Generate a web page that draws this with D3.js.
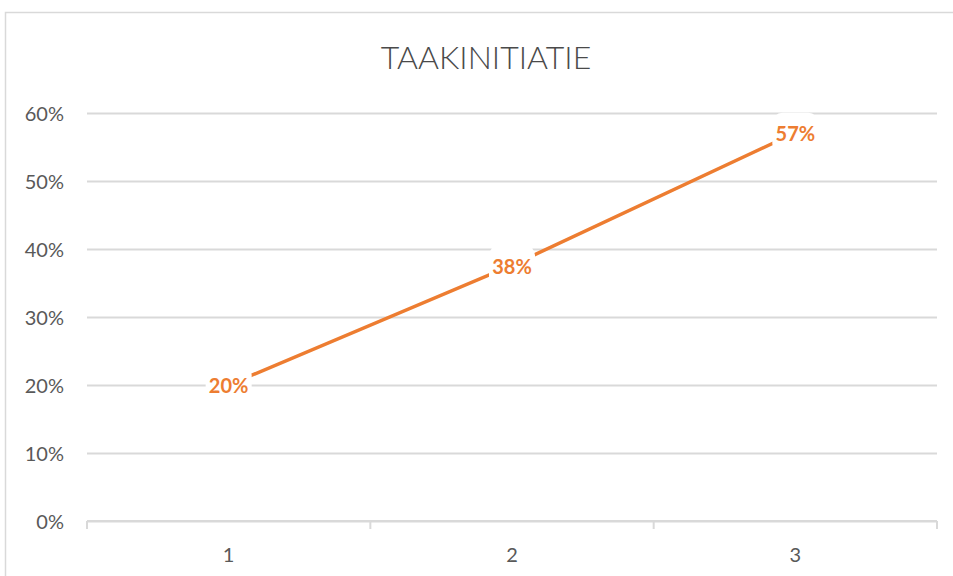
<!DOCTYPE html>
<html>
<head>
    <title>Taakinitiatie</title>
    <style type="text/css">
        body { margin: 0; background: #fff; }
        svg text { font-family: Lato, "Open Sans", Arial, sans-serif; }
        .axis text { fill: #595959; font-size: 20px; }
        .axis .domain { display: none; }
        .grid line { stroke: #d9d9d9; stroke-width: 2; }
    </style>
</head>
<body>
    <script src="https://d3js.org/d3.v7.min.js" type="text/javascript"></script>
    <script type="text/javascript">

        var categories = ['1', '2', '3'];
        var values = [0.20, 0.376, 0.571];
        var yTicks = [0, 0.1, 0.2, 0.3, 0.4, 0.5, 0.6];
        var title = 'TAAKINITIATIE';

        var W = 953, H = 576;
        var plotLeft = 87, plotRight = 937, plotTop = 113, plotBottom = 521;

        var svg = d3.select('body').append('svg')
            .attr('width', W)
            .attr('height', H);

        // chart frame, runs off the right and bottom edges
        svg.append('rect')
            .attr('x', 5.5).attr('y', 12.5)
            .attr('width', 1000).attr('height', 700)
            .attr('fill', 'none')
            .attr('stroke', '#d9d9d9')
            .attr('stroke-width', 1.5);

        var x = d3.scaleBand().domain(categories).range([plotLeft, plotRight]);
        var y = d3.scaleLinear().domain([0, 0.6]).range([plotBottom, plotTop]);

        // gridlines
        svg.append('g')
            .attr('class', 'grid')
            .attr('transform', 'translate(' + plotLeft + ',0)')
            .call(d3.axisLeft(y).tickValues(yTicks).tickSize(-(plotRight - plotLeft)).tickFormat(''))
            .call(function (g) { g.select('.domain').remove(); });

        // y labels
        svg.append('g')
            .attr('class', 'axis')
            .attr('transform', 'translate(' + (plotLeft - 23) + ',0)')
            .call(d3.axisLeft(y).tickValues(yTicks).tickSize(0).tickPadding(0).tickFormat(d3.format('.0%')))
            .call(function (g) { g.selectAll('text').attr('dy', '0.35em'); });

        // x axis: baseline with ticks between categories
        var xa = svg.append('g').attr('class', 'axis');
        xa.append('line')
            .attr('x1', plotLeft).attr('x2', plotRight)
            .attr('y1', plotBottom).attr('y2', plotBottom)
            .attr('stroke', '#d9d9d9').attr('stroke-width', 2);
        var edges = categories.map(function (c) { return x(c); }).concat([x(categories[categories.length - 1]) + x.bandwidth()]);
        xa.selectAll('.tk').data(edges).enter().append('line')
            .attr('x1', function (d) { return d; }).attr('x2', function (d) { return d; })
            .attr('y1', plotBottom).attr('y2', plotBottom + 8)
            .attr('stroke', '#d9d9d9').attr('stroke-width', 2);
        xa.selectAll('.lbl').data(categories).enter().append('text')
            .attr('x', function (d) { return x(d) + x.bandwidth() / 2; })
            .attr('y', 562)
            .attr('text-anchor', 'middle')
            .text(function (d) { return d; });

        // title
        svg.append('text')
            .attr('x', 486).attr('y', 69)
            .attr('text-anchor', 'middle')
            .attr('fill', '#4a4a4a')
            .style('font-size', '32px')
            .style('font-weight', 300)
            .text(title);

        // line
        var pts = categories.map(function (c, i) { return [x(c) + x.bandwidth() / 2, y(values[i])]; });
        svg.append('path')
            .datum(pts)
            .attr('d', d3.line())
            .attr('fill', 'none')
            .attr('stroke', '#ed7d31')
            .attr('stroke-width', 3.5)
            .attr('stroke-linecap', 'round');

        // data labels with white box
        var lab = svg.selectAll('.dl').data(pts).enter().append('g')
            .attr('transform', function (d) { return 'translate(' + d[0] + ',' + d[1] + ')'; });
        lab.append('rect')
            .attr('x', -23).attr('y', -20)
            .attr('width', 46).attr('height', 41)
            .attr('rx', 10)
            .attr('fill', '#fff');
        lab.append('text')
            .attr('text-anchor', 'middle')
            .attr('y', 1)
            .attr('dy', '0.36em')
            .attr('fill', '#ed7d31')
            .style('font-size', '20px')
            .style('font-weight', 'bold')
            .text(function (d, i) { return d3.format('.0%')(values[i]); });
    </script>
</body>
</html>
